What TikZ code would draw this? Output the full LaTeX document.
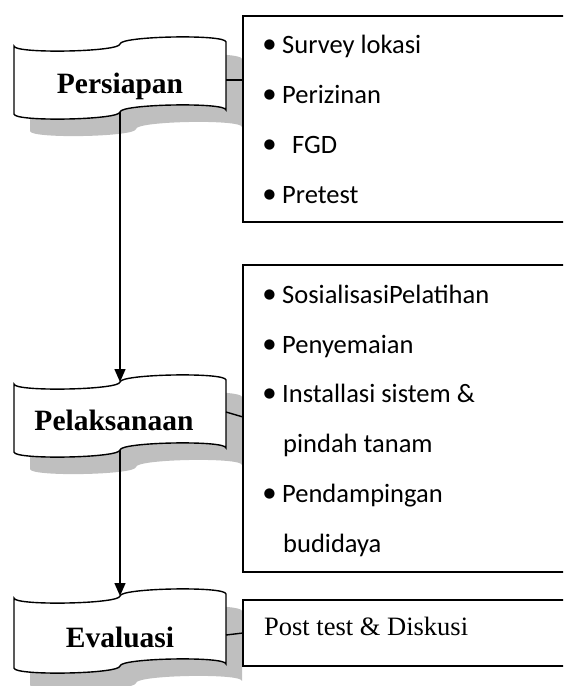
\documentclass[tikz,border=0pt]{standalone}
\usepackage{fontspec}
\setmainfont{Liberation Serif}
\newfontfamily\calibrifont{Carlito}
\newfontfamily\bulletfont{DejaVu Sans}
\usetikzlibrary{arrows.meta}
\definecolor{shadowgray}{RGB}{191,191,191}
\tikzset{
  lineblk/.style={line width=1.4pt, black},
  boxnode/.style={draw, lineblk, fill=white, rectangle, inner sep=0pt, outer sep=0pt},
  bannertext/.style={font=\fontsize{29.5}{32}\selectfont\bfseries, anchor=base, inner sep=0pt},
  listtext/.style={font=\calibrifont\fontsize{26.5}{30}\selectfont, anchor=base west, inner sep=0pt},
  bul/.style={font=\bulletfont\fontsize{13.5}{15}\selectfont, anchor=center, inner sep=0pt},
  plaintext/.style={font=\fontsize{26.5}{30}\selectfont, anchor=base west, inner sep=0pt},
  flowarrow/.style={lineblk, -{Triangle[width=11pt,length=13pt]}},
  conn/.style={lineblk},
  tapeslant/.style={yslant=0.019}
}
% punched-tape outline centred at origin: #1 width, #2 height
\newcommand\tapeoutline[2]{(-#1/2,-#2/2) .. controls (-#1/2,-#2/2+8) and (0,-#2/2+8) .. (0,-#2/2)
  .. controls (0,-#2/2-8) and (#1/2,-#2/2-8) .. (#1/2,-#2/2) -- (#1/2,#2/2)
  .. controls (#1/2,#2/2-8) and (0,#2/2-8) .. (0,#2/2)
  .. controls (0,#2/2+8) and (-#1/2,#2/2+8) .. (-#1/2,#2/2) -- cycle}
\newcommand\tapeshadow[4]{% cx cy w h
  \begin{scope}[shift={(#1+16,#2+17)}, tapeslant]
    \fill[shadowgray] \tapeoutline{#3}{#4};
  \end{scope}}
\newcommand\tapebanner[5]{% name cx cy w h
  \begin{scope}[shift={(#2,#3)}, tapeslant]
    \filldraw[lineblk, fill=white, line join=miter] \tapeoutline{#4}{#5};
  \end{scope}
  \node[inner sep=0pt, outer sep=0pt, minimum width=#4pt, minimum height=#5pt] (#1) at (#2,#3) {};}
\begin{document}
\begin{tikzpicture}[x=1pt, y=-1pt]
\useasboundingbox (0,0) rectangle (563,686);
\clip (0,0) rectangle (563,686);
% shadows
\tapeshadow{120}{78}{212}{68}
\tapeshadow{120}{416}{212}{68}
\tapeshadow{120}{631}{212}{70}
% boxes (right side runs off the picture)
\node[boxnode, minimum width=337pt, minimum height=206pt] (box1) at (411.5,119) {};
\node[boxnode, minimum width=337pt, minimum height=307pt] (box2) at (411.5,418.5) {};
\node[boxnode, minimum width=337pt, minimum height=66pt] (box3) at (411.5,633) {};
% banners
\tapebanner{b1}{120}{78}{212}{68}
\tapebanner{b2}{120}{416}{212}{68}
\tapebanner{b3}{120}{631}{212}{70}
\node[bannertext] (t1) at (120,93) {Persiapan};
\node[bannertext] (t2) at (114,430) {Pelaksanaan};
\node[bannertext] (t3) at (120,647) {Evaluasi};
% arrows
\draw[flowarrow] (b1.south) -- (b2.north);
\draw[flowarrow] (b2.south) -- (b3.north);
% connectors
\draw[conn] ([yshift=-2pt]b1.east) -- ([yshift=-2pt]b1.east -| box1.west);
\draw[conn] ([yshift=4pt]b2.east) -- ([yshift=-1pt]b2.east -| box2.west);
\draw[conn] ([yshift=-4pt]b3.east) -- ([yshift=-2pt]b3.east -| box3.west);
% list 1
\node[bul] (u1) at (269.5,45) {●};
\node[listtext] (l1) at (282,53) {Survey lokasi};
\node[bul] (u2) at (269.5,95) {●};
\node[listtext] (l2) at (282,103) {Perizinan};
\node[bul] (u3) at (269.5,145) {●};
\node[listtext] (l3) at (292,153) {FGD};
\node[bul] (u4) at (269.5,195) {●};
\node[listtext] (l4) at (282,203) {Pretest};
% list 2
\node[bul] (v1) at (269.5,295) {●};
\node[listtext] (m1) at (282,303) {SosialisasiPelatihan};
\node[bul] (v2) at (269.5,345) {●};
\node[listtext] (m2) at (282,353) {Penyemaian};
\node[bul] (v3) at (269.5,394) {●};
\node[listtext] (m3) at (282,402) {Installasi sistem \&};
\node[listtext] (m4) at (283,452) {pindah tanam};
\node[bul] (v5) at (269.5,494) {●};
\node[listtext] (m5) at (282,502) {Pendampingan};
\node[listtext] (m6) at (283,552) {budidaya};
% box 3
\node[plaintext] (p1) at (264,635) {Post test \& Diskusi};
\end{tikzpicture}
\end{document}
